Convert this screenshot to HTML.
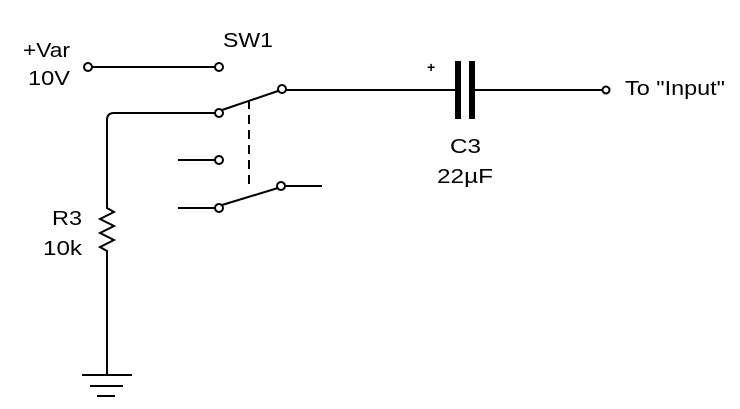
<!DOCTYPE html>
<html><head><style>body{margin:0;background:#fff}svg{display:block}text{font-family:"Liberation Sans",sans-serif;font-size:20px;fill:#000}</style></head>
<body><svg width="740" height="409" viewBox="0 0 740 409" xmlns="http://www.w3.org/2000/svg">
<g stroke="#000" stroke-width="2" fill="none">
<line x1="92" y1="67" x2="215" y2="67"/>
<path d="M215 113 H114 Q107 113 107 120 V208 L114 212 L100 219 L114 226 L100 233 L114 240 L100 247 L107 251 V375"/>
<line x1="82" y1="375" x2="132" y2="375"/>
<line x1="90" y1="386" x2="123" y2="386"/>
<line x1="97" y1="396" x2="115" y2="396"/>
<line x1="222" y1="110" x2="278" y2="91"/>
<line x1="286" y1="90" x2="457" y2="90"/>
<line x1="472" y1="90" x2="602" y2="90"/>
<line x1="178" y1="160" x2="215" y2="160"/>
<line x1="178" y1="208" x2="215" y2="208"/>
<line x1="222" y1="205" x2="278" y2="188"/>
<line x1="285" y1="186" x2="322" y2="186"/>
<line x1="249" y1="100" x2="249" y2="186" stroke-dasharray="9,6"/>
<circle cx="88" cy="67" r="4"/><circle cx="219" cy="67" r="4"/>
<circle cx="219" cy="113" r="4"/><circle cx="282" cy="89" r="4"/>
<circle cx="219" cy="160" r="4"/><circle cx="219" cy="208" r="4"/>
<circle cx="281" cy="186" r="4"/><circle cx="606" cy="90" r="3.5"/>
</g>
<rect x="455" y="61" width="6" height="58" fill="#000"/>
<rect x="469" y="61" width="6" height="58" fill="#000"/>
<text x="23" y="57" textLength="47" lengthAdjust="spacingAndGlyphs">+Var</text>
<text x="28" y="85" textLength="42" lengthAdjust="spacingAndGlyphs">10V</text>
<text x="223" y="47" textLength="50" lengthAdjust="spacingAndGlyphs">SW1</text>
<text x="427" y="72" style="font-size:14px;font-weight:bold">+</text>
<text x="450" y="153" textLength="31" lengthAdjust="spacingAndGlyphs">C3</text>
<text x="437" y="183" textLength="56" lengthAdjust="spacingAndGlyphs">22µF</text>
<text x="625" y="95" textLength="100" lengthAdjust="spacingAndGlyphs">To "Input"</text>
<text x="52" y="225" textLength="30" lengthAdjust="spacingAndGlyphs">R3</text>
<text x="43" y="255" textLength="39" lengthAdjust="spacingAndGlyphs">10k</text>
</svg></body></html>
